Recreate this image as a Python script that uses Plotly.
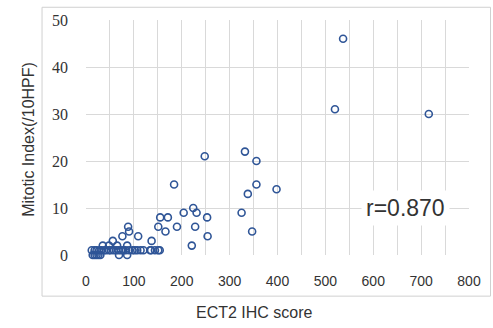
import plotly.graph_objects as go

# Data (ECT2 IHC score vs Mitotic Index)
ect2_high = [537, 520, 716, 332, 248, 356, 184, 356, 398, 338, 224, 231, 204, 325,
             155, 171, 253, 88, 151, 190, 228, 90, 166, 347, 76, 109, 254, 56, 137,
             35, 86, 221, 48, 65, 136, 151]
mitotic_high = [46, 31, 30, 22, 21, 20, 15, 15, 14, 13, 10, 9, 9, 9,
                8, 8, 8, 6, 6, 6, 6, 5, 5, 5, 4, 4, 4, 3, 3,
                2, 2, 2, 2, 2, 1, 1]
ect2_one = [12, 18, 22, 28, 32, 38, 42, 48, 52, 58, 63, 68, 73, 78, 83, 90, 97,
            102, 107, 114, 120, 134, 144, 154]
ect2_zero = [14, 18, 22, 26, 30, 69, 86]

x_vals = ect2_high + ect2_one + ect2_zero
y_vals = mitotic_high + [1] * len(ect2_one) + [0] * len(ect2_zero)

x_ticks = [0, 100, 200, 300, 400, 500, 600, 700, 800]
y_ticks = [0, 10, 20, 30, 40, 50]
r_label = "r=0.870"
x_title = "ECT2 IHC score"
y_title = "Mitotic Index(/10HPF)"

grid = "#d9d9d9"

fig = go.Figure()
fig.add_trace(go.Scatter(
    x=x_vals, y=y_vals, mode="markers", cliponaxis=False,
    marker=dict(symbol="circle-open", size=7, color="#2f5597",
                line=dict(width=1.6, color="#2f5597")),
    showlegend=False,
))

fig.update_layout(
    width=493, height=328,
    margin=dict(l=86, r=15, t=15, b=73),
    paper_bgcolor="white", plot_bgcolor="white",
    xaxis=dict(range=[0, 800], tickvals=x_ticks, showgrid=True, gridcolor=grid,
               gridwidth=1, zeroline=False, showline=False,
               minor=dict(dtick=50, showgrid=True, gridcolor=grid, gridwidth=1),
               ticks="", ticklabelstandoff=16,
               tickfont=dict(family="Liberation Sans, Arial", size=14, color="#333333")),
    yaxis=dict(range=[0, 50], tickvals=y_ticks, showgrid=True, gridcolor=grid,
               gridwidth=1, zeroline=False, showline=False,
               ticks="", ticklabelstandoff=17,
               tickfont=dict(family="Liberation Serif, Times New Roman", size=16, color="#333333")),
    shapes=[dict(type="rect", xref="paper", yref="paper",
                 x0=(41 - 86) / 392, x1=(500 - 86) / 392,
                 y0=(255 - 297) / 240, y1=(255 - 2) / 240,
                 line=dict(color="#d0d0d0", width=1), layer="below")],
    annotations=[
        dict(x=668, y=9.9, xref="x", yref="y", text=r_label, showarrow=False,
             xanchor="center", yanchor="middle",
             font=dict(family="Liberation Sans, Arial", size=23, color="#333333"),
             bgcolor="white", borderpad=4),
        dict(x=(258 - 86) / 392, y=(255 - 314) / 240, xref="paper", yref="paper",
             text=x_title, showarrow=False, xanchor="center", yanchor="middle",
             font=dict(family="Liberation Sans, Arial", size=16, color="#333333")),
        dict(x=(27 - 86) / 392, y=(255 - 137) / 240, xref="paper", yref="paper",
             text=y_title, showarrow=False, textangle=-90,
             xanchor="center", yanchor="middle",
             font=dict(family="Liberation Sans, Arial", size=16, color="#333333")),
    ],
)

fig.write_html("out.html")
